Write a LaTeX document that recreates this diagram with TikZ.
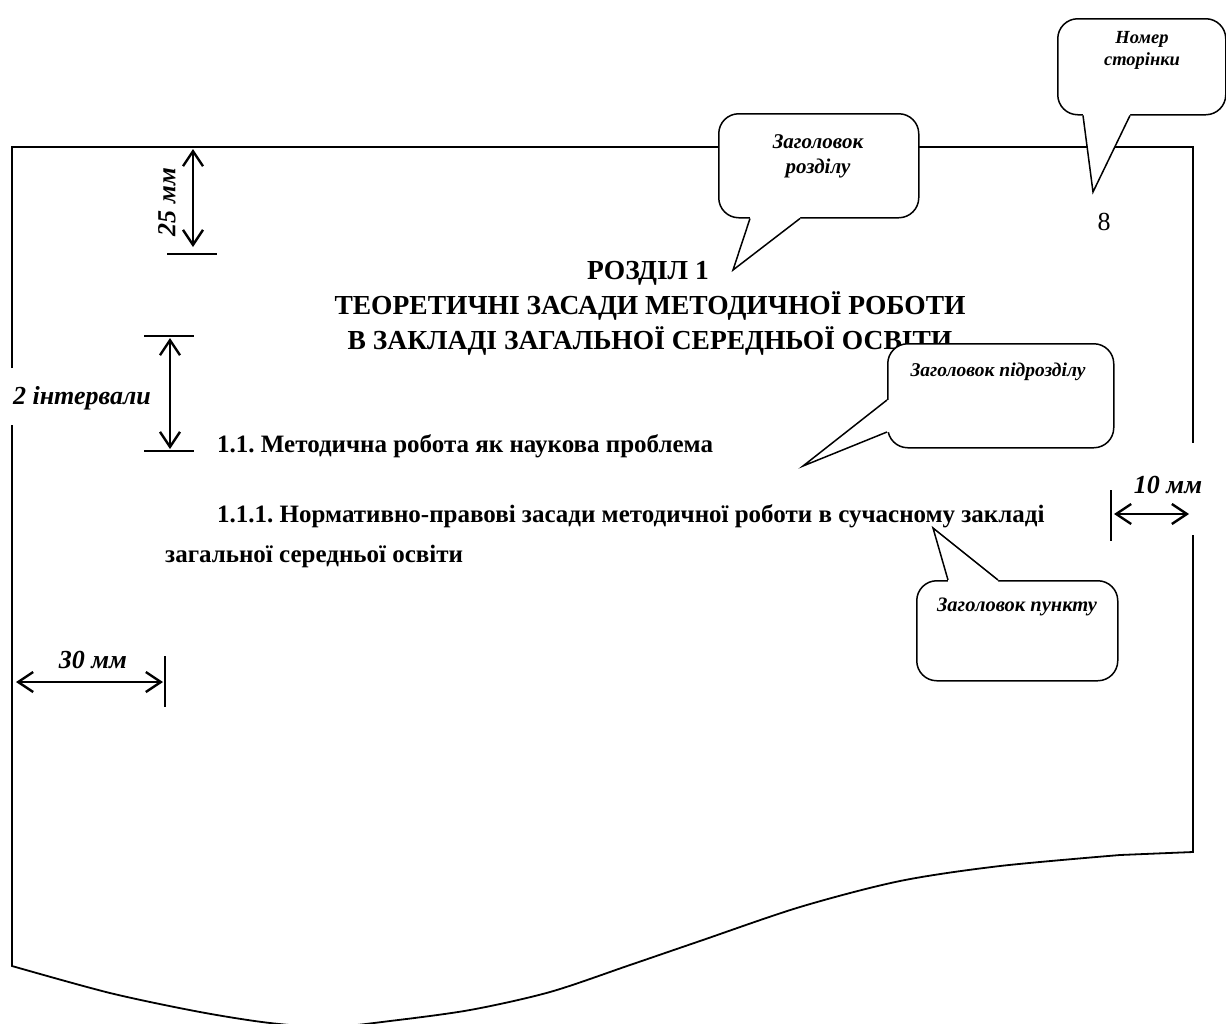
\documentclass[tikz,border=0pt]{standalone}
\usepackage{fontspec}
\setmainfont{Liberation Serif}
\usetikzlibrary{arrows.meta,calc}
\frenchspacing
\begin{document}
\frenchspacing
\begin{tikzpicture}[x=1pt,y=-1pt,
  page/.style={line width=1.8pt},
  bubble/.style={draw, line width=1.5pt, fill=white, rounded corners=20pt, inner sep=0pt, anchor=north west},
  bubtext/.style={align=center, inner sep=0pt},
  ptr/.style={line width=1.5pt, line join=miter},
  >={Straight Barb[length=15pt,width=20pt]},
  dimarrow/.style={line width=2.4pt, <->},
  tick/.style={line width=1.8pt},
  head/.style={font=\fontsize{27.5}{32}\selectfont\bfseries, inner sep=0pt, anchor=base},
  subhead/.style={font=\fontsize{25}{30}\selectfont\bfseries, anchor=base west, inner sep=0pt},
  dimlabel/.style={font=\fontsize{26}{30}\selectfont\bfseries\itshape, inner sep=0pt}
]
\clip (0,0) rectangle (1226,1023);
\fill[white] (0,0) rectangle (1226,1023);

% page outline
\draw[page] (12,368) -- (12,147) -- (1193,147) -- (1193,443);
\draw[page] (1193,535) -- (1193,852) -- plot[smooth, tension=0.5] coordinates {(1120,855) (1000,866) (900,881) (800,907) (700,941) (630,965) (550,992) (470,1010) (390,1021) (330,1027) (270,1023) (200,1012) (110,993) (12,966)} -- (12,425);

% headings
\node[head] (h1) at (648,279) {РОЗДІЛ 1};
\node[head] (h2) at (650,314) {ТЕОРЕТИЧНІ ЗАСАДИ МЕТОДИЧНОЇ РОБОТИ};
\node[head] (h3) at (650,349) {В ЗАКЛАДІ ЗАГАЛЬНОЇ СЕРЕДНЬОЇ ОСВІТИ};

\node[subhead] (s1) at (217,452) {1.1. Методична робота як наукова проблема};
\node[subhead] (s2) at (217,522) {1.1.1. Нормативно-правові засади методичної роботи в сучасному закладі};
\node[subhead] (s3) at (165,562) {загальної середньої освіти};

\node[font=\fontsize{26}{30}\selectfont, inner sep=0pt] (pg) at (1104,222) {8};

% dimension: 25 mm
\coordinate (a25t) at (193,149);
\coordinate (a25b) at (193,247);
\draw[dimarrow] (a25t) -- (a25b);
\coordinate (t25l) at (167,254);
\coordinate (t25r) at (217,254);
\draw[tick] (t25l) -- (t25r);
\node[dimlabel, rotate=90] (l25) at (167,202) {25 мм};

% dimension: 2 intervals
\coordinate (tiAl) at (144,336);
\coordinate (tiAr) at (194,336);
\coordinate (tiBl) at (144,451);
\coordinate (tiBr) at (194,451);
\draw[tick] (tiAl) -- (tiAr);
\draw[tick] (tiBl) -- (tiBr);
\coordinate (aIt) at (170,338);
\coordinate (aIb) at (170,449);
\draw[dimarrow] (aIt) -- (aIb);
\node[dimlabel] (lI) at (82,398) {2 інтервали};

% dimension: 30 mm
\coordinate (a30l) at (16,682);
\coordinate (a30r) at (163,682);
\draw[dimarrow] (a30l) -- (a30r);
\coordinate (t30t) at (165,656);
\coordinate (t30b) at (165,707);
\draw[tick] (t30t) -- (t30b);
\node[dimlabel] (l30) at (93,660) {30 мм};

% dimension: 10 mm
\coordinate (t10t) at (1111,490);
\coordinate (t10b) at (1111,541);
\draw[tick] (t10t) -- (t10b);
\coordinate (a10l) at (1114,514);
\coordinate (a10r) at (1189,514);
\draw[dimarrow] (a10l) -- (a10r);
\node[dimlabel] (l10) at (1168,485) {10 мм};

% callout: page number
\node[bubble, minimum width=168pt, minimum height=96pt] (nb) at (1057,18) {};
\node[bubtext, font=\fontsize{18.5}{22}\selectfont\bfseries\itshape] (nbt) at (1142,50) {Номер\\сторінки};
\coordinate (nbtip) at (1093,192);
\fill[white] ($(nb.south west)+(26,-3)$) -- ($(nb.south west)+(26,0)$) -- (nbtip) -- ($(nb.south west)+(73,0)$) -- ($(nb.south west)+(73,-3)$) -- cycle;
\draw[ptr] ($(nb.south west)+(26,0)$) -- (nbtip) -- ($(nb.south west)+(73,0)$);

% callout: chapter heading
\node[bubble, minimum width=200pt, minimum height=104pt] (rb) at (718,113) {};
\node[bubtext, font=\fontsize{21}{25}\selectfont\bfseries\itshape] (rbt) at (818,156) {Заголовок\\розділу};
\coordinate (rbtip) at (733,270);
\fill[white] ($(rb.south west)+(32,-3)$) -- ($(rb.south west)+(32,0)$) -- (rbtip) -- ($(rb.south west)+(82,0)$) -- ($(rb.south west)+(82,-3)$) -- cycle;
\draw[ptr] ($(rb.south west)+(32,0)$) -- (rbtip) -- ($(rb.south west)+(82,0)$);

% callout: subsection heading
\node[bubble, minimum width=226pt, minimum height=104pt] (sb) at (887,343) {};
\node[bubtext, font=\fontsize{19.5}{23}\selectfont\bfseries\itshape] (sbt) at (998,372) {Заголовок підрозділу};
\coordinate (sbtip) at (803,466);
\fill[white] ($(sb.north west)+(3,57)$) -- ($(sb.north west)+(0,57)$) -- (sbtip) -- ($(sb.north west)+(0,89)$) -- ($(sb.north west)+(3,89)$) -- cycle;
\draw[ptr] ($(sb.north west)+(0,57)$) -- (sbtip) -- ($(sb.north west)+(0,89)$);

% callout: item heading
\node[bubble, minimum width=201pt, minimum height=100pt] (pb) at (916,580) {};
\node[bubtext, font=\fontsize{20.5}{24}\selectfont\bfseries\itshape] (pbt) at (1017,607) {Заголовок пункту};
\coordinate (pbtip) at (933,528);
\fill[white] ($(pb.north west)+(32,3)$) -- ($(pb.north west)+(32,0)$) -- (pbtip) -- ($(pb.north west)+(82,0)$) -- ($(pb.north west)+(82,3)$) -- cycle;
\draw[ptr] ($(pb.north west)+(32,0)$) -- (pbtip) -- ($(pb.north west)+(82,0)$);
\end{tikzpicture}
\end{document}
